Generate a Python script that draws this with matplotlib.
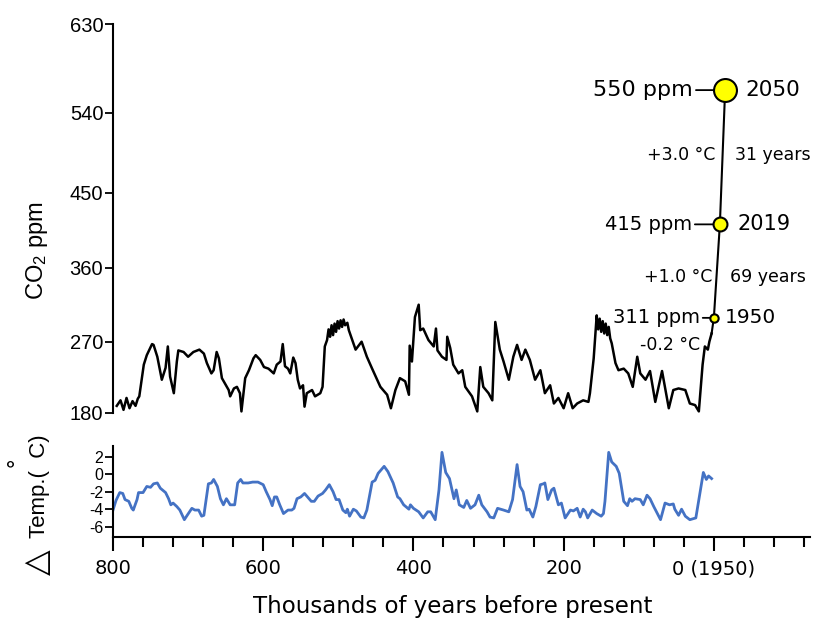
import numpy as np
import matplotlib.pyplot as plt

# CO2 record (thousands of years before present, ppm)
co2_kyr = [795, 790, 786, 782, 778, 774, 770, 767, 765, 759, 755, 748, 746, 741, 735, 730, 727, 724, 719, 715,
           713, 706, 700, 693, 685, 679, 675, 669, 666, 662, 659, 655, 646, 644, 639, 635, 631, 629, 624, 619,
           613, 610, 604, 599, 593, 586, 582, 577, 574, 571, 567, 564, 560, 557, 554, 551, 547, 545, 542, 535,
           531, 524, 521, 518, 515, 513, 511, 509, 507, 505, 503, 501, 499, 497, 495, 493, 491, 488, 486, 477,
           469, 462, 455, 444, 435, 430, 424, 418, 411, 406, 405, 402, 398, 393, 391, 387, 380, 373, 370, 368,
           362, 356, 355, 351, 347, 340, 335, 331, 322, 315, 311, 307, 300, 295, 291, 285, 280, 273, 267, 262,
           256, 251, 245, 238, 231, 225, 218, 213, 207, 200, 194, 188, 182, 174, 167, 165, 160, 156, 154, 152,
           150, 148, 146, 144, 142, 140, 138, 136, 131, 127, 120, 114, 108, 102, 98, 91, 85, 78, 69, 60,
           54, 47, 38, 32, 25, 20, 15, 12, 8, 6, 3]
co2_ppm = [189, 196, 184, 199, 186, 195, 189, 198, 201, 241, 253, 267, 266, 251, 222, 237, 264, 226, 205, 245,
           259, 257, 251, 257, 260, 255, 243, 230, 234, 257, 249, 224, 209, 201, 211, 213, 205, 182, 224, 234,
           249, 253, 247, 238, 236, 230, 241, 245, 267, 239, 236, 230, 250, 243, 222, 211, 215, 188, 205, 209,
           201, 205, 213, 264, 272, 285, 276, 290, 278, 292, 282, 295, 286, 296, 288, 297, 290, 293, 284, 260,
           270, 251, 236, 213, 203, 186, 209, 224, 220, 203, 265, 245, 300, 315, 284, 286, 272, 264, 286, 259,
           251, 247, 276, 262, 241, 230, 234, 213, 201, 182, 238, 213, 205, 196, 294, 260, 245, 222, 251, 266,
           247, 260, 247, 222, 234, 205, 215, 192, 199, 186, 205, 186, 192, 196, 194, 205, 249, 302, 285, 298,
           282, 295, 280, 292, 278, 288, 274, 268, 243, 234, 236, 230, 213, 251, 230, 222, 233, 194, 233, 186,
           209, 211, 209, 192, 190, 182, 241, 264, 260, 270, 280]

# modern / projected points (plotted position, ppm as drawn)
future_kyr = [0, -8, -15]
future_ppm = [299, 412, 563]
future_years = ["1950", "2019", "2050"]
future_labels = ["311 ppm", "415 ppm", "550 ppm"]

# temperature anomaly
temp_kyr = [800, 796, 791, 787, 784, 779, 775, 773, 768, 766, 760, 755, 750, 746, 741, 737, 730, 726, 723, 720,
            715, 711, 705, 702, 695, 691, 686, 682, 679, 673, 669, 666, 661, 657, 653, 649, 644, 638, 634, 630,
            627, 620, 614, 607, 600, 596, 591, 588, 585, 582, 578, 573, 567, 562, 559, 555, 550, 545, 541, 536,
            532, 527, 521, 517, 512, 507, 503, 499, 494, 490, 488, 485, 480, 476, 470, 466, 462, 455, 451, 447,
            439, 434, 427, 421, 418, 413, 406, 404, 400, 393, 387, 381, 377, 371, 366, 362, 357, 352, 346, 343,
            339, 333, 329, 324, 318, 313, 309, 302, 298, 293, 288, 280, 273, 268, 262, 258, 254, 249, 246, 241,
            237, 231, 227, 225, 221, 216, 213, 207, 203, 198, 191, 187, 182, 178, 174, 171, 168, 162, 156, 150,
            147, 145, 140, 136, 130, 126, 120, 115, 112, 109, 105, 98, 94, 89, 85, 80, 71, 65, 59, 54,
            52, 47, 43, 38, 32, 24, 19, 14, 10, 7, 3]
temp_c = [-4.1, -3.0, -2.1, -2.2, -2.9, -3.1, -3.9, -4.1, -2.9, -2.1, -2.1, -1.4, -1.5, -1.1, -1.0, -1.6, -2.1, -2.8, -3.5, -3.3,
          -3.7, -4.1, -5.2, -4.8, -3.9, -4.1, -4.1, -4.8, -4.7, -1.1, -1.0, -0.6, -1.4, -2.8, -3.5, -2.8, -3.5, -3.5, -1.0, -0.6,
          -1.0, -1.0, -0.9, -0.9, -1.2, -2.0, -2.9, -3.6, -2.6, -2.6, -3.5, -4.5, -4.1, -4.1, -3.9, -2.8, -2.6, -2.2, -2.6, -3.1,
          -3.1, -2.5, -2.2, -1.8, -1.2, -2.0, -2.9, -2.9, -4.1, -4.4, -4.0, -4.8, -4.0, -4.2, -4.9, -5.0, -4.1, -0.9, -0.7, 0.1,
          0.9, 0.3, -1.0, -2.6, -2.8, -3.5, -4.0, -3.5, -3.9, -4.3, -5.0, -4.3, -4.3, -5.2, -1.8, 2.5, 0.2, -0.5, -2.8, -1.8,
          -3.5, -3.8, -3.0, -3.9, -3.5, -2.4, -3.5, -4.3, -4.9, -5.0, -3.9, -4.1, -4.3, -2.9, 1.1, -1.4, -2.0, -4.1, -4.0, -4.9,
          -3.7, -1.2, -1.1, -1.0, -2.9, -1.8, -1.6, -3.5, -3.3, -5.0, -4.1, -4.2, -3.9, -4.9, -4.0, -4.3, -5.0, -4.1, -4.5, -4.8,
          -4.5, -3.1, 2.5, 1.4, 0.9, 0.1, -3.1, -3.6, -2.8, -3.1, -2.8, -2.9, -3.5, -2.4, -2.8, -3.7, -5.2, -3.3, -3.5, -3.4,
          -4.0, -4.7, -4.0, -4.8, -5.2, -5.0, -2.4, 0.2, -0.6, -0.2, -0.5]

co2_ticks = [180, 270, 360, 450, 540, 630]
temp_ticks = [2, 0, -2, -4, -6]
x_major = [800, 600, 400, 200, 0]
x_labels = ["800", "600", "400", "200", "0 (1950)"]

W, H = 818, 621

# the CO2 axis in the original is not evenly spaced; map ticks to their drawn positions
tick_pos = np.array([0, 71.3, 145.3, 220.3, 300.3, 388.7]) / 388.7
t = np.array(co2_ticks, float)


def _pw(v, xs, ys):
    v = np.asarray(v, float)
    lo = ys[0] + (v - xs[0]) * (ys[1] - ys[0]) / (xs[1] - xs[0])
    hi = ys[-1] + (v - xs[-1]) * (ys[-1] - ys[-2]) / (xs[-1] - xs[-2])
    return np.where(v < xs[0], lo, np.where(v > xs[-1], hi, np.interp(v, xs, ys)))


def fwd(v):
    return _pw(v, t, tick_pos)


def inv(v):
    return _pw(v, tick_pos, t)


def px(x, y):
    return x / W, 1 - y / H


plt.rcParams["mathtext.fontset"] = "custom"
plt.rcParams["mathtext.rm"] = "Liberation Sans"
plt.rcParams["mathtext.default"] = "regular"

fig = plt.figure(figsize=(W / 100, H / 100), dpi=100)
ax = fig.add_axes([113 / W, 1 - 413 / H, 697 / W, (413 - 24.3) / H])
ax2 = fig.add_axes([113 / W, 1 - 537 / H, 697 / W, (537 - 445.7) / H])

# --- CO2 panel ---
ax.set_yscale("function", functions=(fwd, inv))
ax.plot(co2_kyr, co2_ppm, color="black", lw=1.8, clip_on=False)
ax.plot([co2_kyr[-1]] + future_kyr, [co2_ppm[-1]] + future_ppm, color="black", lw=1.5, clip_on=False)
sizes = [6, 10, 16.5]
for k, p, s in zip(future_kyr, future_ppm, sizes):
    ax.plot(k, p, "o", ms=s, mfc="#ffff00", mec="black", mew=1.5, zorder=5, clip_on=False)

lab_off = [-10, -20, -23]
lab_size = [14, 14, 16]
yr_off = [8, 13, 14.5]
yr_size = [14.5, 15, 15.5]
for i in range(3):
    ax.annotate(future_labels[i], xy=(future_kyr[i], future_ppm[i]), xytext=(lab_off[i], 0),
                textcoords="offset points", ha="right", va="center", fontsize=lab_size[i],
                family="DejaVu Sans",
                arrowprops=dict(arrowstyle="-", lw=1.3, color="black", shrinkA=0, shrinkB=sizes[i] / 2))
    ax.annotate(future_years[i], xy=(future_kyr[i], future_ppm[i]), xytext=(yr_off[i], 0),
                textcoords="offset points", ha="left", va="center", fontsize=yr_size[i],
                family="DejaVu Sans")

ax.set_xlim(800, -128)
ax.set_ylim(180, 630)
ax.set_yticks(co2_ticks)
ax.set_yticklabels([str(v) for v in co2_ticks], family="Liberation Sans", fontsize=14.5)
ax.tick_params(axis="y", length=6, width=1.3, pad=1)
ax.set_xticks([])
for side in ["top", "right", "bottom"]:
    ax.spines[side].set_visible(False)
ax.spines["left"].set_linewidth(1.5)
ax.patch.set_alpha(0)

# --- temperature panel ---
ax2.plot(temp_kyr, temp_c, color="#4472c4", lw=2)
ax2.set_xlim(800, -128)
ax2.set_ylim(-7.18, 3.26)
ax2.set_yticks(temp_ticks)
ax2.set_yticklabels([str(v) for v in temp_ticks], family="Liberation Sans", fontsize=11.5)
ax2.tick_params(axis="y", length=6, width=1.3, pad=1)
ax2.set_xticks(x_major)
ax2.set_xticklabels(x_labels, family="DejaVu Sans", fontsize=14)
ax2.set_xticks(np.arange(760, -128, -40), minor=True)
ax2.tick_params(axis="x", which="major", length=10, width=1.5, pad=6)
ax2.tick_params(axis="x", which="minor", length=7, width=1.5)
for side in ["top", "right"]:
    ax2.spines[side].set_visible(False)
ax2.spines["left"].set_linewidth(1.5)
ax2.spines["bottom"].set_linewidth(1.5)
ax2.patch.set_alpha(0)

# annotations for warming and time spans
notes = [("+3.0 °C", 715, 155, "right"), ("31 years", 735, 155, "left"),
         ("+1.0 °C", 712, 277, "right"), ("69 years", 730, 277, "left"),
         ("-0.2 °C", 700, 345, "right")]
for txt, x, y, ha in notes:
    fig.text(*px(x, y), txt, ha=ha, va="center", fontsize=12.5, family="DejaVu Sans")

# axis labels
fig.text(*px(37, 251), r"CO$_2$ ppm", rotation=90, ha="center", va="center",
         fontsize=17, family="Liberation Sans")
fig.text(*px(40, 486), "Temp.(  C)", rotation=90, ha="center", va="center",
         fontsize=16, family="Liberation Sans")
fig.text(*px(18, 462), "°", rotation=90, ha="center", va="center", fontsize=17, family="Liberation Sans")
fig.text(*px(37, 562), "△", rotation=90, ha="center", va="center", fontsize=24, family="DejaVu Sans")
fig.text(*px(453, 607), "Thousands of years before present", ha="center", va="center",
         fontsize=16.5, family="DejaVu Sans")

fig.savefig("out.png", dpi=100)
